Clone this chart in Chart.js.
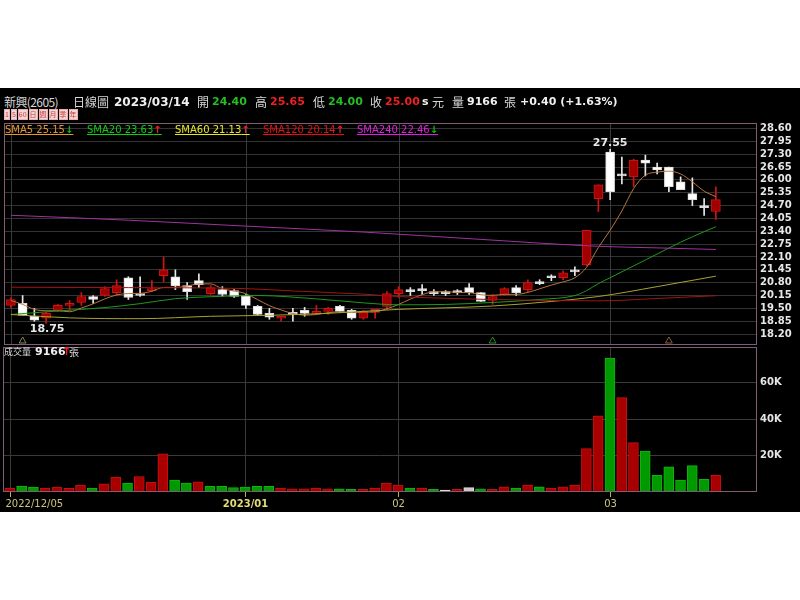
<!DOCTYPE html>
<html>
<head>
<meta charset="utf-8">
<script src="https://cdn.jsdelivr.net/npm/chart.js@4.4.1/dist/chart.umd.min.js"></script>
<style>
  html, body { margin: 0; padding: 0; background: #fff; }
  #stage { position: relative; width: 800px; height: 600px; overflow: hidden; }
  #dark { position: absolute; left: 0; top: 88px; width: 800px; height: 424px; background: #000; }
  canvas { position: absolute; left: 0; }
  #priceChart { top: 114px; }
  #volChart { top: 338px; }
  .t { position: absolute; white-space: nowrap; line-height: 14px; height: 14px; }
  .zh { font-family: "Noto Sans CJK TC", sans-serif; font-size: 12px; color: #d8d8d8; }
  .num { font-family: "DejaVu Sans", sans-serif; font-weight: bold; font-size: 11px; color: #f0f0f0; }
  .g { color: #22c022; }
  .r { color: #f02020; }
  .btns span { display: inline-block; font-family: "Noto Sans CJK TC", sans-serif; font-size: 7px; line-height: 9px; height: 9px;
               padding: 0; margin-right: 1px; background: #f2d6d6; color: #d03838; border: 1px solid #e4b4b4; vertical-align: top; }
  .leg { font-family: "DejaVu Sans", sans-serif; font-size: 10px; text-decoration: underline; }
  .up { color: #ff1a1a; font-weight: bold; }
  .dn { color: #10c010; font-weight: bold; }
</style>
</head>
<body>
<div id="stage">
  <div id="dark"></div>
  <canvas id="priceChart" width="800" height="240"></canvas>
  <canvas id="volChart" width="800" height="174"></canvas>

  <!-- header -->
  <div class="t zh" style="left:4px;top:95px;letter-spacing:-0.6px">新興(2605)</div>
  <div class="t zh" style="left:73px;top:95px">日線圖</div>
  <div class="t num" style="left:114px;top:95px;font-size:12px">2023/03/14</div>
  <div class="t zh" style="left:197px;top:95px">開</div>
  <div class="t num g" style="left:212px;top:95px">24.40</div>
  <div class="t zh" style="left:255px;top:95px">高</div>
  <div class="t num r" style="left:270px;top:95px">25.65</div>
  <div class="t zh" style="left:313px;top:95px">低</div>
  <div class="t num g" style="left:328px;top:95px">24.00</div>
  <div class="t zh" style="left:370px;top:95px">收</div>
  <div class="t num r" style="left:385px;top:95px">25.00</div>
  <div class="t num" style="left:422px;top:95px">s</div>
  <div class="t zh" style="left:432px;top:95px">元</div>
  <div class="t zh" style="left:452px;top:95px">量</div>
  <div class="t num" style="left:467px;top:95px">9166</div>
  <div class="t zh" style="left:504px;top:95px">張</div>
  <div class="t num" style="left:520px;top:95px">+0.40 (+1.63%)</div>
  <div class="t btns" style="left:4px;top:109px"><span>1</span><span>5</span><span>60</span><span>日</span><span>週</span><span>月</span><span>季</span><span>年</span></div>

  <!-- moving-average legend -->
  <div class="t leg" style="left:5px;top:123px;color:#e8962e">SMA5 25.15<span class="dn">↓</span></div>
  <div class="t leg" style="left:87px;top:123px;color:#10d010">SMA20 23.63<span class="up">↑</span></div>
  <div class="t leg" style="left:175px;top:123px;color:#e8e820">SMA60 21.13<span class="up">↑</span></div>
  <div class="t leg" style="left:263px;top:123px;color:#e81010">SMA120 20.14<span class="up">↑</span></div>
  <div class="t leg" style="left:357px;top:123px;color:#e020e0">SMA240 22.46<span class="dn">↓</span></div>

  <!-- volume title -->
  <div class="t zh" style="left:4px;top:345px;font-size:9px">成交量</div>
  <div class="t num" style="left:35px;top:345px">9166</div>
  <div class="t up" style="left:62px;top:345px;font-size:11px;font-family:'DejaVu Sans'">↑</div>
  <div class="t zh" style="left:69px;top:345px;font-size:10px">張</div>
</div>

<script>
// ---- data ----
const dates = [
  "2022/12/05","2022/12/06","2022/12/07","2022/12/08","2022/12/09","2022/12/12","2022/12/13","2022/12/14","2022/12/15","2022/12/16",
  "2022/12/19","2022/12/20","2022/12/21","2022/12/22","2022/12/23","2022/12/26","2022/12/27","2022/12/28","2022/12/29","2022/12/30",
  "2023/01/03","2023/01/04","2023/01/05","2023/01/06","2023/01/09","2023/01/10","2023/01/11","2023/01/12","2023/01/13","2023/01/16",
  "2023/01/17","2023/01/30","2023/01/31","2023/02/01","2023/02/02","2023/02/03","2023/02/06","2023/02/07","2023/02/08","2023/02/09",
  "2023/02/10","2023/02/13","2023/02/14","2023/02/15","2023/02/16","2023/02/17","2023/02/20","2023/02/21","2023/02/22","2023/02/23",
  "2023/02/24","2023/03/01","2023/03/02","2023/03/03","2023/03/06","2023/03/07","2023/03/08","2023/03/09","2023/03/10","2023/03/13",
  "2023/03/14"
];
const opens  = [19.65,19.75,19.10,19.00,19.40,19.65,19.80,20.10,20.15,20.30, 21.05,20.20,20.40,21.15,21.10,20.65,20.90,20.25,20.45,20.40,
                20.15,19.60,19.25,19.00,19.25,19.40,19.25,19.35,19.60,19.40, 19.00,19.30,19.60,20.25,20.40,20.45,20.30,20.25,20.40,20.55,
                20.30,19.90,20.20,20.55,20.45,20.85,21.10,21.05,21.40,21.70, 25.05,27.40,26.30,26.15,27.00,26.65,26.65,25.90,25.30,24.65, 24.40];
const highs  = [20.05,20.15,19.50,19.30,19.70,19.90,20.30,20.15,20.60,20.95, 21.10,21.10,20.90,22.10,21.45,20.80,21.25,20.65,20.60,20.45,
                20.20,19.65,19.50,19.10,19.50,19.55,19.65,19.55,19.65,19.45, 19.40,19.45,20.35,20.60,20.55,20.70,20.45,20.40,20.45,20.75,
                20.30,20.20,20.55,20.65,20.95,20.95,21.20,21.40,21.60,23.45, 25.75,27.55,27.15,27.05,27.25,26.85,26.65,26.15,26.10,25.05, 25.65];
const lows   = [19.55,19.15,18.85,18.75,19.35,19.40,19.65,19.75,20.10,20.15, 19.95,20.10,20.35,20.85,20.45,19.95,20.55,20.20,20.10,20.05,
                19.50,19.15,18.95,18.85,18.85,19.10,19.20,19.20,19.30,18.95, 18.95,19.00,19.45,20.05,20.15,20.20,20.15,20.15,20.20,20.20,
                19.85,19.70,20.15,20.15,20.35,20.70,20.90,20.95,21.15,21.65, 24.40,25.00,25.80,25.65,26.20,26.30,25.40,25.50,24.70,24.20, 24.00];
const closes = [19.95,19.15,18.90,19.25,19.65,19.70,20.10,19.95,20.50,20.65, 20.05,20.15,20.50,21.45,20.65,20.35,20.70,20.55,20.20,20.10,
                19.65,19.20,19.05,19.10,19.20,19.25,19.35,19.50,19.35,19.00, 19.35,19.45,20.25,20.45,20.35,20.40,20.25,20.25,20.30,20.30,
                19.85,20.10,20.50,20.30,20.80,20.75,21.05,21.30,21.35,23.45, 25.75,25.40,26.20,27.00,26.85,26.50,25.65,25.50,25.00,24.60, 25.00];
const volumes = [2200,3300,2700,2200,2700,2000,3800,2200,4500,8200, 4900,8500,5300,20900,6500,4900,5600,3100,3100,2400,
                 2700,3100,3100,2200,1800,1800,2200,1800,1800,1500, 1500,2200,4900,3800,2200,2200,1500,1100,1500,2400,
                 1800,1500,2900,2200,3800,2900,2200,2900,3800,23800, 41800,73500,51800,27100,22500,9100,13800,6500,14500,6900, 9166];

// moving averages (null = not read, line joins the read points)
const sma5 = [19.90,19.70,19.45,19.38,19.38,19.33,19.52,19.73,19.98,20.18, 20.25,20.26,20.37,20.56,20.56,20.63,20.74,20.74,20.49,20.38,
              20.24,19.94,19.64,19.42,19.24,19.16,19.19,19.28,19.33,19.29, 19.31,19.33,19.48,19.70,19.97,20.19,20.34,20.34,20.31,20.30,
              20.19,20.16,20.21,20.21,20.31,20.49,20.68,20.84,21.05,21.58, 22.58,23.45,24.43,25.56,26.24,26.39,26.44,26.30,25.90,25.43, 25.15];
const sma20 = [19.19,null,null,null,19.37,null,null,null,19.54,null, null,19.74,null,null,19.99,null,null,20.09,null,null,
               null,20.15,null,null,null,null,19.98,null,null,null, 19.78,null,null,19.68,null,null,null,19.70,null,null,
               null,19.80,null,null,null,19.95,null,null,20.15,20.40, 20.75,21.05,21.35,21.65,21.95,22.25,22.55,22.85,23.12,23.38, 23.63];
const sma60Pts  = { 0:19.19, 5:19.02, 11:18.98, 17:19.10, 22:19.15, 27:19.25, 33:19.45, 41:19.62, 46:19.85, 50:20.10, 55:20.60, 60:21.13 };
const sma120Pts = { 0:20.57, 10:20.55, 20:20.50, 24:20.38, 30:20.22, 33:20.10, 41:19.95, 50:19.88, 55:20.00, 60:20.14 };
const sma240Pts = { 0:24.21, 10:23.96, 20:23.66, 30:23.36, 40:22.99, 50:22.64, 55:22.56, 60:22.48 };

const priceTicks = [18.20,18.85,19.50,20.15,20.80,21.45,22.10,22.75,23.40,24.05,24.70,25.35,26.00,26.65,27.30,27.95,28.60];
const volTicks = [20000, 40000, 60000];
const monthStarts = [0, 20, 33, 51];
const xTickLabels = [
  { i: 0, text: "2022/12/05", bold: false, align: "left" },
  { i: 20, text: "2023/01", bold: true, align: "center" },
  { i: 33, text: "02", bold: false, align: "center" },
  { i: 51, text: "03", bold: false, align: "center" }
];
const signalMarks = [
  { i: 1, color: "#8c8658" },
  { i: 41, color: "#2a8a2a" },
  { i: 56, color: "#8a5a3c" }
];
const lowMark = { i: 3, text: "18.75" };
const highMark = { i: 51, text: "27.55" };

// ---- helpers ----
const slots = dates.concat(["", "", ""]); // empty slots on the right
const fromPts = (pts) => slots.map((_, i) => (pts[i] !== undefined ? pts[i] : null));
const isUp = (i) => closes[i] > opens[i];
const volColor = (i) => {
  const prev = i === 0 ? opens[0] : closes[i - 1];
  if (closes[i] > prev) return "#a80000";
  if (closes[i] < prev) return "#009a00";
  return "#c8c8c8";
};
const volBorder = (i) => {
  const c = volColor(i);
  return c === "#a80000" ? "#c81010" : c === "#009a00" ? "#10b410" : "#e0e0e0";
};

Chart.defaults.font.family = "DejaVu Sans";

// fixed width right axis so both charts line up
const fixWidth = (scale) => { scale.width = 43; };

const frame = {
  id: "frame",
  afterDraw(chart) {
    const { ctx, chartArea: a } = chart;
    ctx.save();
    ctx.strokeStyle = "#7d5e74";
    ctx.lineWidth = 1;
    ctx.strokeRect(a.left - 0.5, a.top + 0.5, a.right - a.left, a.bottom - a.top - 1);
    ctx.restore();
  }
};

const monthGrid = {
  id: "monthGrid",
  beforeDatasetsDraw(chart) {
    const { ctx, chartArea: a, scales } = chart;
    ctx.save();
    ctx.strokeStyle = "#3a3a3a";
    ctx.lineWidth = 1;
    monthStarts.forEach((i) => {
      const px = Math.round(scales.x.getPixelForValue(i)) + 0.5;
      ctx.beginPath();
      ctx.moveTo(px, a.top);
      ctx.lineTo(px, a.bottom);
      ctx.stroke();
    });
    ctx.restore();
  }
};

const extremes = {
  id: "extremes",
  afterDatasetsDraw(chart) {
    const { ctx, scales } = chart;
    ctx.save();
    ctx.fillStyle = "#e8e8e8";
    ctx.font = "bold 11px 'DejaVu Sans'";
    ctx.textAlign = "center";
    ctx.textBaseline = "top";
    ctx.fillText(lowMark.text, scales.x.getPixelForValue(lowMark.i) + 1, scales.y.getPixelForValue(lows[lowMark.i]) + 0);
    ctx.textBaseline = "bottom";
    ctx.fillText(highMark.text, scales.x.getPixelForValue(highMark.i), scales.y.getPixelForValue(highs[highMark.i]) - 1);
    ctx.restore();
  }
};

const xLabels = {
  id: "xLabels",
  afterDraw(chart) {
    const { ctx, chartArea: a, scales } = chart;
    ctx.save();
    xTickLabels.forEach((t) => {
      const px = Math.round(scales.x.getPixelForValue(t.i)) + 0.5;
      ctx.strokeStyle = "#b8b060";
      ctx.beginPath();
      ctx.moveTo(px, a.bottom);
      ctx.lineTo(px, a.bottom + 5);
      ctx.stroke();
      ctx.fillStyle = t.bold ? "#e4dc78" : "#cfc67c";
      ctx.font = (t.bold ? "bold " : "") + "10px 'DejaVu Sans'";
      ctx.textBaseline = "middle";
      ctx.textAlign = t.align;
      ctx.fillText(t.text, t.align === "left" ? px - 5 : px, a.bottom + 12);
    });
    ctx.restore();
  }
};

const maLine = (data, color) => ({
  type: "line", data, borderColor: color, borderWidth: 1, pointRadius: 0,
  spanGaps: true, cubicInterpolationMode: "monotone", order: 0
});

// ---- price chart ----
new Chart(document.getElementById("priceChart"), {
  type: "bar",
  data: {
    labels: slots,
    datasets: [
      maLine(fromPts(sma240Pts), "#a032a0"),
      maLine(fromPts(sma120Pts), "#a01414"),
      maLine(fromPts(sma60Pts), "#a8a232"),
      maLine(sma20, "#1e9a1e"),
      maLine(sma5, "#b8763e"),
      {
        type: "line",
        data: fromPts(Object.fromEntries(signalMarks.map((m) => [m.i, 17.85]))),
        showLine: false, pointStyle: "triangle", pointRadius: 4,
        pointBackgroundColor: "rgba(0,0,0,0)",
        pointBorderColor: slots.map((_, i) => (signalMarks.find((m) => m.i === i) || {}).color || "#000"),
        pointBorderWidth: 1, order: 0
      },
      {
        data: opens.map((o, i) => [o, closes[i]]),
        backgroundColor: opens.map((_, i) => (isUp(i) ? "#a00000" : "#ffffff")),
        borderColor: opens.map((_, i) => (isUp(i) ? "#d01414" : "#dcdcdc")),
        borderWidth: 1, borderSkipped: false, barThickness: 9, minBarLength: 2,
        grouped: false, order: 1
      },
      {
        data: lows.map((l, i) => [l, highs[i]]),
        backgroundColor: lows.map((_, i) => (isUp(i) ? "#d01414" : "#e8e8e8")),
        barThickness: 1, grouped: false, order: 2
      }
    ]
  },
  options: {
    responsive: false, animation: false, devicePixelRatio: 1,
    layout: { padding: { left: 4, right: 0, top: 8, bottom: 8 } },
    plugins: { legend: { display: false }, tooltip: { enabled: false } },
    scales: {
      x: { type: "category", display: false, offset: true },
      y: {
        position: "right", min: 17.648, max: 28.876,
        afterBuildTicks: (s) => { s.ticks = priceTicks.map((v) => ({ value: v })); },
        afterFit: fixWidth,
        grid: { color: "#333333", drawTicks: false },
        border: { display: false },
        ticks: { color: "#e6e6e6", padding: 3, autoSkip: false, font: { size: 10, weight: "bold" }, callback: (v) => Number(v).toFixed(2) }
      }
    }
  },
  plugins: [monthGrid, extremes, frame]
});

// ---- volume chart ----
new Chart(document.getElementById("volChart"), {
  type: "bar",
  data: {
    labels: slots,
    datasets: [{
      data: volumes,
      backgroundColor: volumes.map((_, i) => volColor(i)),
      borderColor: volumes.map((_, i) => volBorder(i)),
      borderWidth: 1, borderSkipped: "start", barThickness: 10
    }]
  },
  options: {
    responsive: false, animation: false, devicePixelRatio: 1,
    layout: { padding: { left: 4, right: 0, top: 8, bottom: 20 } },
    plugins: { legend: { display: false }, tooltip: { enabled: false } },
    scales: {
      x: { type: "category", display: false, offset: true },
      y: {
        position: "right", min: 0, max: 79600,
        afterBuildTicks: (s) => { s.ticks = volTicks.map((v) => ({ value: v })); },
        afterFit: fixWidth,
        grid: { color: "#3a3a3a", drawTicks: false },
        border: { display: false },
        ticks: { color: "#e6e6e6", padding: 3, autoSkip: false, font: { size: 10, weight: "bold" }, callback: (v) => v / 1000 + "K" }
      }
    }
  },
  plugins: [monthGrid, xLabels, frame]
});
</script>
</body>
</html>
